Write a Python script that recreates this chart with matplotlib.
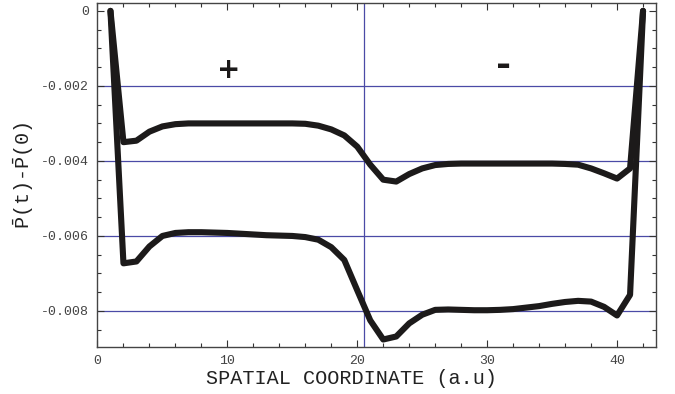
import matplotlib
matplotlib.use("Agg")
import matplotlib.pyplot as plt
from matplotlib.ticker import MultipleLocator, FuncFormatter

# spatial grid points (a.u)
x = list(range(1, 43))

# upper curve (sign regions + / -)
p_upper = [0.0, -0.00350, -0.00346, -0.00322, -0.00308, -0.00302, -0.00300,
           -0.00300, -0.00300, -0.00300, -0.00300, -0.00300, -0.00300, -0.00300,
           -0.00300, -0.00301, -0.00306, -0.00316, -0.00332, -0.00362, -0.00410,
           -0.00450, -0.00455, -0.00435, -0.00420, -0.00411, -0.00408, -0.00407,
           -0.00407, -0.00407, -0.00407, -0.00407, -0.00407, -0.00407, -0.00407,
           -0.00408, -0.00410, -0.00420, -0.00433, -0.00447, -0.00420, 0.0]

# lower curve
p_lower = [0.0, -0.00673, -0.00668, -0.00628, -0.00600, -0.00592, -0.00590,
           -0.00590, -0.00591, -0.00592, -0.00594, -0.00596, -0.00598, -0.00599,
           -0.00600, -0.00603, -0.00610, -0.00630, -0.00664, -0.00745, -0.00825,
           -0.00876, -0.00868, -0.00833, -0.00810, -0.00797, -0.00796, -0.00797,
           -0.00798, -0.00798, -0.00797, -0.00795, -0.00791, -0.00787, -0.00781,
           -0.00776, -0.00773, -0.00775, -0.00789, -0.00812, -0.00757, 0.0]

grid_y = [-0.002, -0.004, -0.006, -0.008]
grid_x = 20.5
signs = [("+", 10.1, -0.00157, 20), ("-", 31.3, -0.00147, 26)]

plt.rcParams['axes.unicode_minus'] = False
plt.rcParams['mathtext.fontset'] = 'custom'
plt.rcParams['mathtext.rm'] = 'Liberation Mono'
plt.rcParams['mathtext.it'] = 'Liberation Mono'
mono = ['Liberation Mono', 'DejaVu Sans Mono']

fig = plt.figure(figsize=(6.75, 3.94), dpi=100)
ax = fig.add_axes([0.1444, 0.1193, 0.8275, 0.8731])

# grid lines
for gy in grid_y:
    ax.axhline(gy, color='#4a4aa6', linewidth=0.9, zorder=1)
ax.axvline(grid_x, color='#4a4aa6', linewidth=0.9, zorder=1)

# curves
for series in (p_upper, p_lower):
    ax.plot(x, series, color='#1c1a1a', linewidth=4.4,
            solid_joinstyle='round', solid_capstyle='round', zorder=3)

# sign annotations
for s, sx, sy, fs in signs:
    ax.text(sx, sy, s, fontsize=fs, fontweight='bold',
            family=['DejaVu Sans'], ha='center', va='center',
            color='#1c1a1a')

ax.set_xlim(0, 43)
ax.set_ylim(-0.00896, 0.00021)

ax.xaxis.set_major_locator(MultipleLocator(10))
ax.xaxis.set_minor_locator(MultipleLocator(2))
ax.yaxis.set_major_locator(MultipleLocator(0.002))
ax.yaxis.set_minor_locator(MultipleLocator(0.0005))
ax.yaxis.set_major_formatter(FuncFormatter(lambda v, p: "0" if abs(v) < 1e-9 else f"{v:.3f}"))

ax.tick_params(which='both', direction='in', top=True, right=True,
               width=0.8, color='#333333')
ax.tick_params(which='major', length=5, labelsize=9.5, labelcolor='#444444', pad=6)
ax.tick_params(which='minor', length=3)
for lab in ax.get_xticklabels() + ax.get_yticklabels():
    lab.set_family(mono)

for sp in ax.spines.values():
    sp.set_color('#444444')
    sp.set_linewidth(1.0)

ax.set_xlabel("SPATIAL COORDINATE (a.u)", family=mono, fontsize=14.5,
              color='#222222')
ax.xaxis.set_label_coords(0.454, -0.065)
ax.set_ylabel(r"$\bar{\mathrm{P}}$(t)-$\bar{\mathrm{P}}$(0)", family=mono,
              fontsize=14.5, color='#222222', labelpad=4)

fig.savefig("out.png", dpi=100)
